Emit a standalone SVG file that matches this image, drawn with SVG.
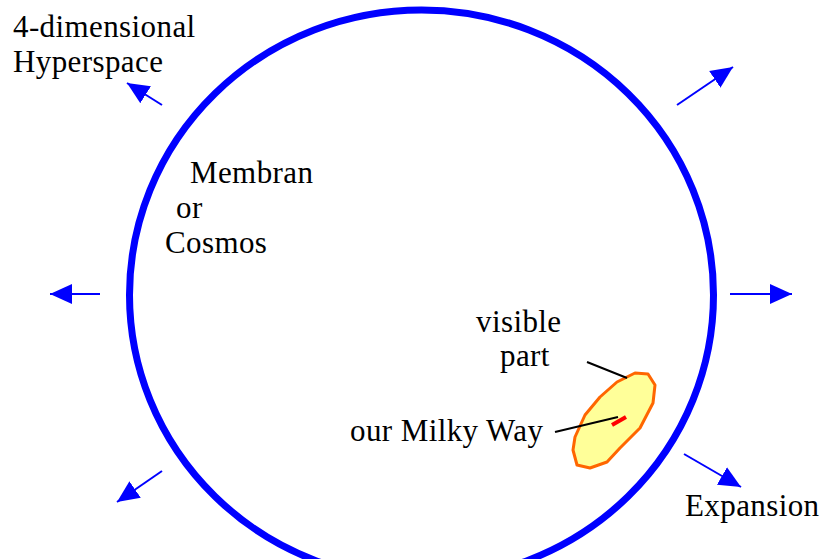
<svg xmlns="http://www.w3.org/2000/svg" width="823" height="559" viewBox="0 0 823 559">
<style>
.lbl{font-family:"Liberation Serif","Times New Roman",serif;font-size:31px;letter-spacing:0.4px;fill:#000}
.arr{stroke:#0000FF;stroke-width:2;fill:none;marker-end:url(#ah)}
.lead{stroke:#000;stroke-width:2;fill:none}
</style>
<defs>
<marker id="ah" markerUnits="userSpaceOnUse" markerWidth="24" markerHeight="24" viewBox="0 0 24 24" refX="22" refY="12" orient="auto">
<path d="M0,2 L22,12 L0,22 Z" fill="#0000FF"/>
</marker>
</defs>
<rect width="823" height="559" fill="#fff"/>
<g id="cosmos">
<ellipse cx="421.5" cy="295" rx="292" ry="285" fill="none" stroke="#0000FF" stroke-width="7"/>
</g>
<g id="visible-part">
<polygon points="635,373 648,374 655,385 653,403 640,428 620,448 607,462 590,468 577,465 573,450 575,437 585,415 600,397 617,382" fill="#FFFF99" stroke="#FF6600" stroke-width="3" stroke-linejoin="round"/>
</g>
<g id="milky-way">
<line x1="612" y1="425" x2="626" y2="417" stroke="#FF0000" stroke-width="4"/>
</g>
<g id="connectors">
<line class="arr" x1="162" y1="105" x2="127" y2="83"/>
<line class="arr" x1="677" y1="105" x2="733" y2="67"/>
<line class="arr" x1="100" y1="294" x2="50" y2="294"/>
<line class="arr" x1="730" y1="294" x2="792" y2="294"/>
<line class="arr" x1="162" y1="471" x2="117" y2="502"/>
<line class="arr" x1="684" y1="454" x2="741" y2="487"/>
<line class="lead" x1="587" y1="362" x2="627" y2="378"/>
<line class="lead" x1="555" y1="432" x2="618" y2="417"/>
</g>
<g id="labels" class="lbl">
<text x="13" y="37">4-dimensional</text>
<text x="13" y="72">Hyperspace</text>
<text x="190" y="183">Membran</text>
<text x="176" y="218">or</text>
<text x="165" y="253">Cosmos</text>
<text x="476" y="332">visible</text>
<text x="500" y="366">part</text>
<text x="350" y="441">our Milky Way</text>
<text x="685" y="516">Expansion</text>
</g>
</svg>
